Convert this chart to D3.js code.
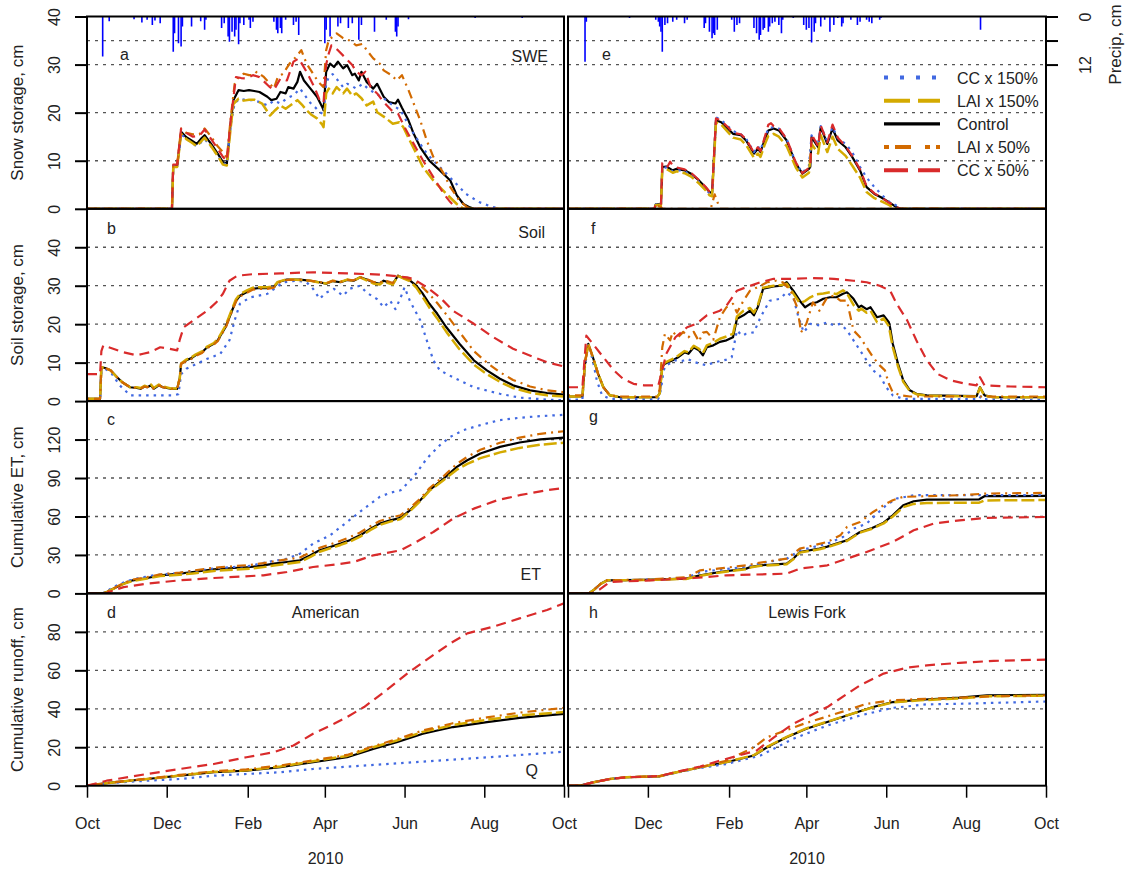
<!DOCTYPE html>
<html><head><meta charset="utf-8">
<script src="https://cdn.jsdelivr.net/npm/d3@7"></script>
<style>
body{margin:0;background:#fff;}
svg{font-family:"Liberation Sans",Arial,Helvetica,sans-serif;}
</style></head><body>
<svg id="chart" width="1134" height="869"></svg>
<script>
// ---------------- DATA (day of water year from 1 Oct 2009, value) ----------------
const monthTicks = ["2009-10-01","2009-12-01","2010-02-01","2010-04-01","2010-06-01","2010-08-01","2010-10-01"];
const yTicksSWE = [0,10,20,30,40];
const yTicksSoil = [0,10,20,30,40];
const yTicksET = [0,30,60,90,120];
const yTicksQ = [0,20,40,60,80];
const precipTicks = [0,6,12];
const precipTickLabels = ["0","","12"];
const seriesNames = ["CC x 150%","LAI x 150%","Control","LAI x 50%","CC x 50%"];

// Precipitation (cm)
const precipAmerican = [[12,10],[17,1.2],[36,0.7],[42,1.5],[46,0.8],[50,2.1],[52,1],[56,1.7],[66,8.8],[67,4.2],[70,6.7],[72,7.5],[73,2.5],[80,2.5],[87,1.2],[90,3.3],[91,0.8],[103,2.9],[105,1.7],[108,5],[109,6.3],[111,3.8],[113,5],[114,3.3],[116,6.9],[117,1.7],[120,2.1],[124,0.8],[125,2.9],[127,1.3],[143,1.3],[145,3.3],[146,4.2],[148,2.9],[149,4.2],[152,0.8],[158,2.1],[160,1.3],[162,4.6],[182,6.7],[183,3.3],[186,5],[192,2.5],[194,1.7],[200,2.9],[203,1.7],[208,5.8],[210,2.1],[220,3.8],[229,0.8],[236,3.8],[237,5],[238,2.5],[246,0.7],[297,0.4],[333,0.4]];
const precipLewis = [[13,11.3],[14,1.3],[47,0.4],[67,0.8],[69,1.3],[70,2.5],[71,3.8],[72,8.8],[74,2.1],[76,1.7],[80,1.3],[83,0.8],[89,1.7],[91,0.8],[104,2.9],[105,1.7],[108,3.8],[110,5.4],[111,4.2],[112,4.6],[114,3.3],[125,0.8],[127,3.8],[129,2.1],[131,1.7],[142,2.9],[144,4.2],[146,5.8],[147,4.6],[149,3.3],[150,2.9],[153,3.8],[154,2.5],[156,1.7],[158,1.3],[161,2.1],[163,4.2],[164,0.8],[172,0.4],[180,2.1],[182,3.3],[184,2.9],[186,6.5],[188,3.8],[189,1.7],[193,2.5],[196,0.8],[200,3.8],[203,2.1],[206,0.4],[209,2.5],[210,1.7],[216,0.8],[221,2.1],[223,1.3],[228,0.8],[230,1.3],[232,1.7],[238,0.8],[239,0.4],[315,3.3]];

// Panel a: SWE American
const ctrlA = [[0,0],[65,0],[66,8.9],[69,8.9],[72,16],[76,14.9],[80,14.2],[84,13.5],[87,14.5],[90,15.3],[95,13.5],[100,11.5],[104,9.7],[107,9.4],[110,18],[112,22.6],[116,24.7],[120,24.5],[124,24.7],[128,24.5],[132,24.3],[138,23.3],[141,22.6],[145,22.9],[148,24.3],[152,24],[154,25.3],[158,25],[161,26.4],[163,28.5],[166,26.7],[171,25],[176,23.3],[180,21.2],[181,20.5],[183,28.5],[186,30.2],[189,29.5],[192,30.6],[196,29.2],[199,29.9],[203,27.8],[205,28.1],[208,26.7],[210,28.5],[214,26.4],[219,25],[222,26],[227,23.3],[231,22.2],[236,21.9],[238,22.7],[241,21],[246,18.4],[250,15.6],[255,12.8],[262,10],[270,8],[278,5.9],[283,2.8],[288,1],[293,0.3],[296,0],[365,0]];
const lai150A = [[0,0],[65,0],[66,8.7],[69,8.7],[72,15.6],[76,14.5],[80,13.8],[84,13],[90,14.8],[95,13],[100,11],[104,9.2],[107,9],[110,17],[112,21.8],[116,22.9],[120,22.5],[124,22.7],[128,22.7],[134,21.9],[140,19.4],[144,20.5],[148,21.5],[152,20.8],[156,21.6],[161,22.6],[165,21.5],[168,20.5],[172,19.5],[176,18.8],[180,17.5],[181,17],[183,24],[185,25],[188,24],[191,25.3],[196,24],[199,25],[203,23.5],[206,24],[210,23],[214,21.5],[219,22.3],[222,20.1],[228,19],[234,17.7],[239,18],[242,17],[247,14.2],[252,11.5],[257,8.7],[265,5.9],[275,3.1],[283,1],[288,0],[365,0]];
const cc150A = [[0,0],[65,0],[66,8.9],[69,8.9],[72,15.5],[76,14.6],[80,13.8],[84,13],[90,14.5],[95,13],[100,11],[104,9.5],[107,9.2],[110,17.5],[113,22],[117,22.9],[122,22.6],[127,22.6],[132,22.2],[138,21.5],[143,22.5],[148,21.9],[153,23],[158,23.6],[163,25],[167,23.5],[171,22],[175,21],[178,20.1],[181,19.7],[183,26],[185,27.4],[188,28],[192,26.7],[196,25.3],[199,26],[203,25.5],[206,25],[211,26],[215,25],[219,24.3],[224,23.5],[229,22.6],[234,21.5],[240,20.5],[245,18],[250,15.6],[255,13.5],[260,11.5],[265,10],[270,8.7],[280,5.9],[290,3.1],[300,1.4],[310,0.4],[316,0],[365,0]];
const lai50A = [[0,0],[65,0],[66,9.2],[69,9.2],[72,16.7],[76,15.8],[81,15.5],[86,15.5],[90,16.7],[95,15],[100,13],[104,11.8],[107,10.5],[110,19],[113,26],[116,27.4],[120,28.1],[124,27.8],[127,27.8],[130,28.5],[135,27.5],[140,26],[143,25],[146,27.4],[150,28.1],[155,30.2],[160,31.6],[164,33],[168,30.2],[173,28.1],[177,26.4],[181,25.3],[183,33],[185,35.1],[191,36.5],[196,35.5],[201,35],[206,34],[211,34.3],[214,33],[219,31.3],[224,30.2],[227,28.8],[233,27.8],[237,26.7],[241,27.8],[246,24.7],[250,21.9],[255,18.4],[260,14.2],[265,10.8],[273,7.3],[278,4.5],[285,1.7],[291,0.3],[294,0],[365,0]];
const cc50A = [[0,0],[65,0],[66,9.2],[69,9.2],[72,16.7],[76,15.8],[81,15],[86,15.2],[90,16.5],[95,14.5],[100,12.5],[104,10.8],[107,10],[110,18.5],[114,27.4],[118,27.2],[122,27.1],[127,27.8],[132,27.4],[138,25.8],[140,25.3],[143,24.7],[148,27.1],[153,26.7],[158,30.6],[162,31.3],[168,28.5],[174,25.3],[178,22.6],[181,22],[183,30],[185,32.3],[187,34],[192,33],[197,31.6],[203,29.9],[206,28.5],[210,27.8],[213,28.5],[217,25.3],[222,24],[227,22.2],[233,20.5],[238,19.8],[243,17],[250,13.5],[257,10.1],[265,6.6],[273,3.1],[278,1.4],[282,0.3],[284,0],[365,0]];

// Panel e: SWE Lewis Fork
const ctrlE = [[0,0],[66,0],[67,0.9],[71,0.9],[72,8.7],[75,8.8],[80,8],[83,8.3],[89,8],[94,7.3],[100,5.9],[105,4.5],[108,3.5],[110,3.3],[113,18.4],[117,18],[122,16.7],[126,15.6],[132,15.3],[136,14.2],[142,11.5],[145,12.5],[147,11.8],[150,14.2],[153,16.3],[157,16.7],[161,16.3],[167,14.2],[174,9.4],[179,7.3],[184,8.3],[185,8.7],[186,14.9],[191,12.8],[193,17],[198,13.5],[202,16.7],[206,14.2],[212,12.8],[217,10.8],[223,8],[228,4.5],[234,3.1],[239,2.4],[245,1.4],[251,0.3],[254,0],[365,0]];
const cc150E = [[0,0],[66,0],[67,0.9],[71,0.9],[72,8.5],[75,8.6],[80,7.8],[83,8.1],[89,7.8],[94,7],[100,5.6],[105,4.2],[108,3.2],[110,3],[113,19],[117,18.5],[122,17.2],[126,16.2],[132,15.5],[136,14.6],[142,11.8],[145,13],[147,12.2],[150,14.6],[153,16.7],[157,17],[161,16.7],[167,14.5],[174,9.5],[179,7.5],[184,9],[186,15.3],[191,13.3],[193,17.2],[198,14],[202,17],[206,14.7],[212,13.5],[217,11.8],[223,8.7],[228,6.5],[234,4.5],[240,2.8],[245,1.5],[252,0.5],[256,0],[365,0]];
const lai150E = [[0,0],[66,0],[67,0.8],[71,0.8],[72,8.2],[75,8.3],[80,7.5],[83,7.8],[89,7.4],[94,6.7],[100,5.3],[105,3.9],[108,2.8],[110,2.6],[113,18],[117,17.5],[122,16],[126,14.8],[132,14.4],[136,13.3],[142,10.6],[145,11.5],[147,10.8],[150,13.2],[153,15.2],[157,15.6],[161,15],[167,13],[174,8.6],[179,6.5],[184,7.5],[186,13.5],[191,11.5],[193,15.3],[198,11.8],[202,15],[206,12.5],[212,11],[217,9],[223,6.5],[228,3.5],[234,2.2],[239,1.6],[245,0.8],[250,0],[365,0]];
const lai50E = [[0,0],[66,0],[68,0.6],[71,0.4],[72,0],[109,0],[112,3],[114,1.5],[116,0],[365,0]];
const cc50E = [[0,0],[66,0],[67,1],[71,1],[72,9.5],[74,9.7],[76,8.8],[78,9.8],[80,9],[83,8.6],[89,8.2],[94,7.5],[100,6],[105,4.6],[108,3.6],[110,3.4],[113,18.8],[117,18.3],[122,17],[126,15.8],[132,15.5],[136,14.5],[142,11.7],[145,12.8],[147,12],[150,14.7],[153,17.5],[155,17.8],[157,17.2],[161,16.8],[167,14.5],[174,9.6],[179,7.4],[184,8.5],[185,8.9],[186,15.5],[191,13],[193,17.3],[198,13.8],[202,17.5],[206,14.8],[212,13],[217,11],[223,8.2],[228,4.7],[234,3.2],[239,2.4],[245,1.3],[251,0.3],[254,0],[365,0]];

// Panel b: Soil American
const ctrlB = [[0,0.6],[10,0.6],[11,8.8],[14,8.6],[18,8],[23,6.2],[27,4.9],[33,3.6],[38,3.4],[41,3.2],[44,3.8],[46,3.6],[49,4.1],[51,3.2],[55,4.1],[58,3.6],[64,3.2],[69,3.2],[71,6],[72,9.7],[76,10.6],[80,11.2],[83,11.9],[88,12.7],[92,14],[97,14.9],[100,15.8],[103,17.5],[106,19.2],[109,21.8],[112,24.4],[114,26.1],[117,27.4],[122,28.3],[127,29.2],[132,29.4],[138,29.4],[143,29.6],[146,30.9],[153,31.6],[163,31.6],[171,31.3],[178,30.9],[183,30.5],[188,31.2],[194,30.9],[199,31.5],[204,31.3],[209,32.2],[214,31.6],[219,30.9],[224,30.5],[227,31.3],[234,30.5],[238,32.6],[242,32],[247,31.4],[252,30],[257,27.9],[262,25.3],[268,22.7],[275,19.2],[285,14.9],[296,10.6],[306,8],[316,5.8],[326,4.1],[339,2.8],[352,2.1],[365,1.7]];
const lai150B = [[0,0.6],[10,0.6],[11,8.8],[14,8.6],[18,8],[23,6.2],[27,4.9],[33,3.6],[38,3.6],[41,3.4],[44,4],[46,3.8],[49,4.3],[51,3.4],[55,4.3],[58,3.8],[64,3.3],[69,3.3],[71,6],[72,9.8],[76,10.8],[80,11.4],[83,12.1],[88,12.9],[92,14.2],[97,15.1],[100,16.1],[103,17.8],[106,19.6],[109,22.2],[112,24.8],[114,26.5],[117,27.8],[122,28.7],[127,29.5],[132,29.6],[138,29.6],[143,29.8],[146,31],[153,31.7],[163,31.5],[171,31.3],[178,30.8],[183,30.6],[188,31.3],[194,31],[199,31.6],[204,31.3],[209,32.2],[214,31.4],[219,30.6],[224,30.3],[227,31.1],[234,30.3],[238,32.6],[242,31.9],[247,31.2],[252,29.5],[257,27],[262,24.3],[268,21.5],[275,18],[285,13.5],[296,9.5],[306,7],[316,5],[326,3.4],[339,2.2],[352,1.5],[365,1.2]];
const lai50B = [[0,0.6],[10,0.6],[11,8.8],[14,8.6],[18,8],[23,6.2],[27,4.9],[33,3.6],[38,3.4],[41,3.2],[44,3.8],[46,3.6],[49,4.1],[51,3.2],[55,4.1],[58,3.6],[64,3.2],[69,3.2],[71,6],[72,9.7],[76,10.4],[80,11],[83,11.7],[88,12.5],[92,13.8],[97,14.7],[100,15.6],[103,17.3],[106,19],[109,21.6],[112,24.2],[114,25.9],[117,27.2],[122,28.1],[127,29],[132,29.2],[138,29.2],[143,29.5],[146,30.7],[153,31.5],[163,31.6],[171,31.3],[178,31],[183,30.6],[188,31.3],[194,31],[199,31.5],[204,31.4],[209,32.2],[214,31.7],[219,31],[224,30.7],[227,31.5],[234,30.7],[238,32.6],[242,32.1],[247,31.6],[252,30.8],[257,29.5],[262,27.8],[268,25.5],[275,22.5],[285,18],[296,13],[306,10],[316,7.5],[326,5.5],[339,3.8],[352,2.8],[365,2.3]];
const cc150B = [[0,0.6],[10,0.6],[11,7.5],[14,8.4],[19,7.1],[25,4.1],[33,1.5],[46,1.5],[66,1.5],[70,1.8],[72,7],[76,8.4],[84,9.7],[92,11],[102,12.3],[109,15.8],[113,21],[117,25.3],[125,27],[138,27.9],[145,29.6],[150,30.9],[161,31.3],[168,30.9],[173,29.2],[178,26.6],[183,28.2],[189,29.2],[196,27.4],[201,29.2],[209,30],[214,28.2],[222,26.5],[227,24.4],[232,26.1],[236,23.9],[240,26.9],[243,29.6],[247,26.1],[255,21],[260,15.8],[265,10.6],[270,8],[280,6.2],[296,3.6],[316,1.9],[331,0.9],[352,0.4],[365,0.2]];
const cc50B = [[0,7],[10,7],[11,13],[12.5,14.5],[20,13.6],[28,12.7],[38,11.9],[43,12.3],[48,12.7],[56,14],[63,13.6],[69,13.2],[71,16],[74,19.2],[81,20.9],[92,23.5],[99,25.7],[104,27.9],[109,31.3],[115,32.6],[127,33],[148,33.2],[173,33.5],[199,33.2],[224,32.9],[245,32.2],[250,31.7],[260,29.6],[270,27],[280,23.5],[296,20.1],[311,16.6],[326,13.6],[342,11.4],[352,10.1],[365,9]];

// Panel f: Soil Lewis Fork
const ctrlF = [[0,1.2],[11,1.2],[13,10],[15.5,14.9],[19,11.4],[23,7.1],[27,3.6],[32,1.5],[40,1],[68,1],[70,2],[72,9],[74,9.7],[80,10.6],[84,11.4],[89,12.7],[92,12.3],[96,14],[100,13.2],[103,11.9],[106,14],[111,14.5],[116,15.4],[121,15.8],[126,16.6],[129,21.4],[134,22.3],[139,23.5],[142,22.3],[145,24.5],[149,29.2],[157,29.8],[163,30],[167,30.9],[172,28.7],[177,26.1],[181,24.4],[185,25.3],[190,25.7],[195,26.6],[200,27],[205,27],[210,27.9],[213,28.3],[218,26.6],[222,24.4],[224,24.8],[228,23.9],[231,24.4],[236,21.8],[241,22.3],[245,20.5],[246,19],[248,14.9],[252,9.7],[256,5.4],[261,2.8],[266,1.9],[274,1.5],[312,1.3],[314.6,3.6],[318,1.5],[325,1],[365,1]];
const lai150F = [[0,1.2],[11,1.2],[13,10],[15.5,14.9],[19,11.4],[23,7.1],[27,3.6],[32,1.5],[40,1],[68,1],[70,2],[72,9],[74,10],[80,11],[84,11.8],[89,13],[92,12.7],[96,14.4],[100,13.6],[103,12.5],[106,14.5],[111,15.2],[116,16.2],[121,16.8],[126,17.5],[129,22],[134,23.5],[139,24.2],[142,23],[145,25],[149,29.5],[157,30],[163,30.2],[167,30.5],[172,28],[177,25.5],[181,26],[185,27],[190,27.8],[195,28],[200,28.3],[205,27.8],[210,28.8],[213,28],[218,25],[222,23.5],[224,24],[228,23],[231,23.5],[236,20.5],[241,21.5],[245,19.5],[248,14],[252,9],[256,5],[261,2.6],[266,1.8],[274,1.4],[312,1.2],[314.6,3.5],[318,1.4],[325,1],[365,1]];
const lai50F = [[0,1.5],[11,1.5],[13,10],[15.5,14.9],[19,11.4],[23,7.1],[27,3.6],[32,1.5],[40,1.2],[68,1.2],[70,3],[72,14],[74,17.5],[78,15.8],[80,18],[84,16.6],[88,18],[92,16.6],[96,18],[100,15.5],[103,17.8],[106,18],[111,16],[116,21.8],[121,24.4],[126,25.3],[129,23],[134,26.1],[139,28.7],[147,30],[152,30.9],[159,31.3],[164,30.9],[170,28.7],[175,24.4],[178,17.9],[182,20.1],[187,25.7],[192,23.5],[198,27],[203,27.4],[208,26.1],[213,26.1],[218,18.4],[223,16.6],[228,14],[233,11.4],[238,9.3],[242,8],[245,4.5],[248,2.3],[254,1.5],[261,1.2],[365,1.2]];
const cc150F = [[0,0.4],[11,0.4],[13,9],[15.5,14.9],[19,10.5],[22,5.4],[26,1.5],[32,0.6],[69,0.6],[71,3],[73,8],[75,9.3],[82,10.6],[87,10.4],[91,11],[96,10.2],[101,9.7],[106,9.3],[111,10],[116,10.4],[121,10.8],[125,11.4],[129,18.4],[133,17],[136,17.5],[142,17.9],[147,21.8],[154,26.1],[162,26.6],[167,28.3],[172,27],[176,21.8],[180,17.9],[185,20.1],[192,19.7],[198,20.5],[203,19.7],[208,20.1],[213,18.4],[218,15.8],[223,13.2],[228,10.6],[233,8],[238,6.7],[243,3.6],[248,1.5],[256,0.6],[314,0.5],[315,1.2],[317,0.5],[365,0.3]];
const cc50F = [[0,3.6],[11,3.6],[14,17],[19,14.9],[27,11.4],[35,8],[42,5.8],[50,4.5],[58,4.1],[69,4.1],[72,8],[75,12.3],[82,16.6],[91,19.2],[98,20.1],[106,22.3],[116,23.5],[121,24.8],[129,28.7],[136,29.6],[147,30.9],[157,31.8],[172,31.8],[187,32],[203,31.8],[218,31.3],[228,30.9],[238,30],[246,28.7],[251,25.3],[259,21],[266,15.8],[274,10.6],[282,7.1],[292,5.4],[304,4.5],[312,4.1],[314.6,6.2],[318,4.1],[338,3.8],[365,3.6]];

// Panel c: ET American
const ctrlC = [[0,0],[12,0],[15,1],[20,3.6],[28,7.6],[35,10.2],[46,12],[56,14.1],[71,15.4],[81,16.7],[97,18.8],[112,19.8],[125,20.6],[135,21.9],[143,23.2],[153,24.5],[163,25.8],[171,29.7],[178,33.6],[186,36.2],[194,38.8],[201,41.4],[209,45.3],[217,50.5],[224,54.4],[232,57],[240,58.9],[247,64.8],[255,72.7],[262,80.5],[273,89.6],[283,98.7],[291,103.9],[301,109.1],[316,114.3],[331,117.7],[347,120.1],[365,121.5]];
const lai150C = [[0,0],[12,0],[15,1],[20,3.5],[28,7.4],[35,9.8],[46,11.6],[56,13.5],[71,14.6],[81,15.6],[97,17.5],[112,18.5],[125,19.3],[135,20.5],[143,21.8],[153,23],[163,24.5],[171,28.5],[178,32.5],[186,35.2],[194,37.8],[201,40.4],[209,44.3],[217,49.5],[224,53.4],[232,56],[240,58],[247,64],[255,72],[262,80],[273,88.5],[283,96.5],[291,101],[301,105.5],[316,110],[331,113.5],[347,116],[365,117.5]];
const lai50C = [[0,0],[12,0],[15,1.2],[20,3.8],[28,8],[35,10.8],[46,12.7],[56,14.8],[71,16.3],[81,17.8],[97,20],[112,21.2],[125,22.2],[135,23.6],[143,25],[153,26.5],[163,28],[171,32],[178,35.5],[186,38.2],[194,41],[201,43.8],[209,47.5],[217,52.5],[224,56.5],[232,59],[240,61],[247,66.5],[255,74],[262,82],[273,91.5],[283,101],[291,106.5],[301,112],[316,117.5],[331,121.5],[347,124.5],[365,126.5]];
const cc150C = [[0,0],[12,0],[15,1.5],[20,4.9],[30,9.5],[40,12],[51,14.2],[71,16],[97,19.5],[112,20.6],[125,21.5],[138,24.5],[153,27],[163,31],[173,38.8],[186,45.3],[199,55.7],[212,66.1],[224,75.3],[232,78.5],[240,80.5],[250,90.9],[260,105.2],[270,115.6],[278,122.1],[288,127.3],[301,131.3],[316,135.2],[331,137],[347,138.3],[365,139.3]];
const cc50C = [[0,0],[14,0],[18,1.5],[28,4.9],[46,7.6],[71,10.2],[97,12],[135,14.1],[153,16.7],[173,20.6],[190,22.5],[204,24.5],[219,29.7],[240,33.6],[252,40.1],[265,47.9],[280,58.3],[296,66.1],[314,72.7],[331,76.6],[352,80.5],[365,82.3]];

// Panel g: ET Lewis Fork
const ctrlG = [[0,0],[16,0],[20,3],[25,7.5],[30,10.2],[57,10.5],[90,11.5],[101,14.1],[116,16.7],[136,19.3],[140,20.8],[147,21.9],[167,23.2],[172,27],[177,32.3],[192,34.9],[198,36.5],[205,38.8],[213,41.4],[223,47.9],[231,50.5],[241,55.2],[248,60.9],[256,68.8],[264,71.9],[274,73.2],[314,73.4],[318,75.8],[365,76]];
const lai150G = [[0,0],[16,0],[20,3],[25,7.5],[30,10.2],[57,10.4],[90,11.3],[101,13.8],[116,16.3],[136,18.9],[140,20.4],[147,21.5],[167,22.8],[172,26.6],[177,31.8],[192,34.4],[198,36],[205,38.3],[213,40.9],[223,47.4],[231,50],[241,54.6],[248,60],[256,67.3],[264,69.8],[274,70.5],[314,70.8],[318,72.5],[365,72.8]];
const lai50G = [[0,0],[16,0],[20,3],[25,7.5],[30,10.2],[57,10.7],[90,12.5],[101,18],[116,19.5],[136,21.9],[147,24],[167,27.1],[177,34.9],[198,40.1],[208,45.3],[213,51.8],[223,55.7],[233,63.5],[241,68.8],[248,72.7],[256,75.3],[299,76.6],[320,77.9],[365,78.4]];
const cc150G = [[0,0],[16,0],[20,3],[25,7.5],[30,10.2],[57,10.6],[90,12],[101,16.7],[116,18.5],[136,20.6],[152,24.5],[167,27],[177,33.6],[198,38.8],[210,44],[218,50.5],[228,54.4],[236,62.2],[243,68.8],[251,74],[264,76.6],[365,76.6]];
const cc50G = [[0,0],[18,0],[24,3],[32,8.9],[60,10],[96,12],[121,14.1],[167,15.4],[177,19.3],[198,21.9],[213,27.1],[228,32.3],[248,40.1],[264,49.2],[279,54.4],[299,57],[320,58.9],[365,59.6]];

// Panel d: runoff American
const ctrlD = [[0,0],[5,0.5],[20,1.7],[46,3.5],[71,5.2],[97,7],[122,7.8],[148,9.6],[173,12.2],[199,14.8],[219,19.1],[237,22.6],[257,27],[280,30.5],[306,33.1],[331,35.3],[365,37.4]];
const lai150D = [[0,0],[5,0.5],[20,1.7],[46,3.5],[71,5.3],[97,7.2],[122,8],[148,10],[173,12.7],[199,15.5],[219,20],[237,23.5],[257,28],[280,31.5],[306,34.3],[331,36.5],[365,38.3]];
const lai50D = [[0,0],[5,0.5],[20,1.8],[46,3.7],[71,5.6],[97,7.5],[122,8.5],[148,10.5],[173,13.2],[199,16],[219,20.5],[237,24.2],[257,28.7],[280,32.5],[306,35.5],[331,38],[365,40.5]];
const cc150D = [[0,0],[5,0.3],[20,1.5],[46,2.6],[71,3.5],[97,5.2],[148,7],[173,8.7],[211,10.4],[250,12.2],[288,13.9],[326,15.7],[365,17.7]];
const cc50D = [[0,0],[15,2.6],[46,6.1],[71,8.7],[97,11.3],[122,14.8],[143,17.4],[158,20.9],[173,27],[189,32.2],[199,35.7],[212,40.9],[229,49.6],[245,58.3],[263,67],[278,74],[291,79.2],[311,82.7],[331,87],[352,91.4],[365,94.8]];

// Panel h: runoff Lewis Fork
const ctrlH = [[0,0],[9,0],[19,1.7],[32,3.5],[45,4.4],[70,4.9],[83,7],[101,9.6],[121,12.2],[142,15.7],[152,20],[167,25.2],[182,29.6],[198,33.1],[213,36.5],[233,40.9],[248,43.5],[269,44.7],[299,45.8],[320,47],[365,47.3]];
const lai150H = [[0,0],[9,0],[19,1.7],[32,3.5],[45,4.4],[70,4.9],[83,7],[101,9.6],[121,12.3],[142,15.9],[152,20.2],[167,25.4],[182,29.8],[198,33.3],[213,36.6],[233,40.8],[248,43.3],[269,44.4],[299,45.4],[320,46.5],[365,46.8]];
const lai50H = [[0,0],[9,0],[19,1.7],[32,3.5],[45,4.4],[70,5],[83,7.2],[96,8.8],[121,13],[142,20],[152,25.2],[180,32.2],[213,39.2],[228,42.6],[248,44.4],[274,45.2],[325,46.5],[365,47]];
const cc150H = [[0,0],[9,0],[19,1.7],[32,3.5],[45,4.4],[70,4.9],[83,6.8],[101,9.2],[121,11.3],[147,15.7],[172,24.4],[198,31.3],[223,36.5],[248,40.5],[274,42.3],[299,42.6],[365,43.8]];
const cc50H = [[0,0],[9,0],[19,1.7],[32,3.5],[45,4.4],[70,5],[83,7.2],[101,10],[116,13],[144,18.3],[157,25],[172,32.2],[198,40.9],[223,52.2],[241,58.3],[259,61.4],[274,62.6],[299,63.9],[325,64.9],[365,65.6]];

// ---------------- RENDERING ----------------
const svg = d3.select("#chart");
const startDate = new Date(2009, 9, 1);
const endDate = new Date(2010, 9, 1);
const toDate = d => new Date(startDate.getTime() + d * 864e5);
const tickDates = monthTicks.map(s => { const p = s.split("-").map(Number); return new Date(p[0], p[1]-1, p[2]); });

const cols = [{x0: 87, x1: 564}, {x0: 568, x1: 1046}];
const top0 = 16.5, rowH = 192.3;
const rows = [
  {domain: [0, 40], ticks: yTicksSWE, title: "Snow storage, cm"},
  {domain: [0, 50], ticks: yTicksSoil, title: "Soil storage, cm"},
  {domain: [0, 150], ticks: yTicksET, title: "Cumulative ET, cm"},
  {domain: [0, 100], ticks: yTicksQ, title: "Cumulative runoff, cm"}
];
const styles = {
  ctrl:   {color: "#000000", w: 2.2, dash: null,        lw: 3.4, ldash: null},
  cc150:  {color: "#4169E1", w: 2.2, dash: "2.5,5",     lw: 4,   ldash: "4,12"},
  lai150: {color: "#D4AA00", w: 2.5, dash: "13,4",      lw: 4,   ldash: "26,8"},
  lai50:  {color: "#D26A00", w: 2.2, dash: "2,5,9,5",   lw: 4,   ldash: "5,6,16,14"},
  cc50:   {color: "#D92B2B", w: 2.2, dash: "10,6",      lw: 4,   ldash: "24,10"}
};
const drawOrder = ["ctrl", "cc150", "lai150", "lai50", "cc50"];
const legendOrder = ["cc150", "lai150", "ctrl", "lai50", "cc50"];

const panels = [
  {c:0, r:0, s:{ctrl:ctrlA, cc150:cc150A, lai150:lai150A, lai50:lai50A, cc50:cc50A}, precip: precipAmerican},
  {c:1, r:0, s:{ctrl:ctrlE, cc150:cc150E, lai150:lai150E, lai50:lai50E, cc50:cc50E}, precip: precipLewis},
  {c:0, r:1, s:{ctrl:ctrlB, cc150:cc150B, lai150:lai150B, lai50:lai50B, cc50:cc50B}},
  {c:1, r:1, s:{ctrl:ctrlF, cc150:cc150F, lai150:lai150F, lai50:lai50F, cc50:cc50F}},
  {c:0, r:2, s:{ctrl:ctrlC, cc150:cc150C, lai150:lai150C, lai50:lai50C, cc50:cc50C}},
  {c:1, r:2, s:{ctrl:ctrlG, cc150:cc150G, lai150:lai150G, lai50:lai50G, cc50:cc50G}},
  {c:0, r:3, s:{ctrl:ctrlD, cc150:cc150D, lai150:lai150D, lai50:lai50D, cc50:cc50D}},
  {c:1, r:3, s:{ctrl:ctrlH, cc150:cc150H, lai150:lai150H, lai50:lai50H, cc50:cc50H}}
];

const FS = 16;
const defs = svg.append("defs");

panels.forEach((p, i) => {
  const col = cols[p.c], row = rows[p.r];
  const yTop = top0 + p.r * rowH, yBot = yTop + rowH;
  const x = d3.scaleTime().domain([startDate, endDate]).range([col.x0, col.x1]);
  const y = d3.scaleLinear().domain(row.domain).range([yBot, yTop]);
  const g = svg.append("g");
  defs.append("clipPath").attr("id", "clip" + i)
    .append("rect").attr("x", col.x0).attr("y", yTop).attr("width", col.x1 - col.x0).attr("height", rowH);

  // gridlines
  let gridVals = row.ticks.filter(v => v > row.domain[0] && v < row.domain[1]);
  const grid = g.append("g");
  gridVals.forEach(v => {
    grid.append("line").attr("x1", col.x0).attr("x2", col.x1).attr("y1", y(v)).attr("y2", y(v))
      .attr("stroke", "#555").attr("stroke-width", 1.3).attr("stroke-dasharray", "3,5");
  });

  const plot = g.append("g").attr("clip-path", `url(#clip${i})`);

  // precipitation
  if (p.precip) {
    const yp = d3.scaleLinear().domain([0, 12]).range([yTop, y(30)]);
    grid.append("line").attr("x1", col.x0).attr("x2", col.x1).attr("y1", yp(6)).attr("y2", yp(6))
      .attr("stroke", "#555").attr("stroke-width", 1.3).attr("stroke-dasharray", "3,5");
    plot.append("g").selectAll("line").data(p.precip).join("line")
      .attr("x1", d => x(toDate(d[0]))).attr("x2", d => x(toDate(d[0])))
      .attr("y1", yp(0)).attr("y2", d => yp(d[1]))
      .attr("stroke", "#0000FF").attr("stroke-width", 1.6);
    if (p.c === 1) {
      const ax = d3.axisRight(yp).tickValues(precipTicks).tickSize(12).tickFormat((d, k) => precipTickLabels[k]);
      const ag = svg.append("g").attr("transform", `translate(${col.x1},0)`).call(ax);
      ag.select(".domain").remove();
      ag.selectAll(".tick line").attr("stroke", "#000").attr("stroke-width", 2);
      ag.selectAll(".tick text").attr("x", 0).attr("dy", 0).attr("text-anchor", "middle")
        .attr("transform", "translate(45,0) rotate(-90)").style("font-size", FS + "px").attr("fill", "#222");
      svg.append("text").attr("transform", `translate(1121,${(yTop + y(30)) / 2 + 4}) rotate(-90)`)
        .attr("text-anchor", "middle").style("font-size", "17px").attr("fill", "#222").text("Precip, cm");
    }
  }

  // series
  const line = d3.line().x(d => x(toDate(d[0]))).y(d => y(d[1]));
  drawOrder.forEach(k => {
    const st = styles[k];
    plot.append("path").datum(p.s[k]).attr("d", line).attr("fill", "none")
      .attr("stroke", st.color).attr("stroke-width", st.w)
      .attr("stroke-dasharray", st.dash).attr("stroke-linejoin", "round");
  });

  // border
  g.append("rect").attr("x", col.x0).attr("y", yTop).attr("width", col.x1 - col.x0).attr("height", rowH)
    .attr("fill", "none").attr("stroke", "#000").attr("stroke-width", 2);

  // y axis (left column)
  if (p.c === 0) {
    const ay = d3.axisLeft(y).tickValues(row.ticks).tickSize(12);
    const ag = svg.append("g").attr("transform", `translate(${col.x0},0)`).call(ay);
    ag.select(".domain").remove();
    ag.selectAll(".tick line").attr("stroke", "#000").attr("stroke-width", 2);
    ag.selectAll(".tick text").attr("x", 0).attr("dy", 0).attr("text-anchor", "middle")
      .attr("transform", "translate(-27,0) rotate(-90)").style("font-size", FS + "px").attr("fill", "#222");
    svg.append("text").attr("transform", `translate(23,${(yTop + yBot) / 2}) rotate(-90)`)
      .attr("text-anchor", "middle").style("font-size", "17px").attr("fill", "#222").text(row.title);
  }

  // x axis (bottom row)
  if (p.r === 3) {
    const axx = d3.axisBottom(x).tickValues(tickDates).tickSize(12)
      .tickFormat((d, k) => (p.c === 1 && k === 0) ? "" : d3.timeFormat("%b")(d));
    const ag = svg.append("g").attr("transform", `translate(0,${yBot})`).call(axx);
    ag.select(".domain").remove();
    ag.selectAll(".tick line").attr("stroke", "#000").attr("stroke-width", 1.5);
    ag.selectAll(".tick text").attr("y", 829 - yBot).attr("dy", 0).style("font-size", FS + "px").attr("fill", "#222");
    svg.append("text").attr("x", (col.x0 + col.x1) / 2).attr("y", 864).attr("text-anchor", "middle")
      .style("font-size", FS + "px").attr("fill", "#222").text("2010");
  }
});

// panel annotations
const ann = [
  {t:"a", x:120, y:60, a:"start"}, {t:"SWE", x:548, y:62, a:"end"},
  {t:"b", x:107, y:234, a:"start"}, {t:"Soil", x:545, y:238, a:"end"},
  {t:"c", x:107, y:425, a:"start"}, {t:"ET", x:541, y:580, a:"end"},
  {t:"d", x:107, y:618, a:"start"}, {t:"American", x:325.5, y:618, a:"middle"}, {t:"Q", x:538, y:776, a:"end"},
  {t:"e", x:602, y:60, a:"start"}, {t:"f", x:591, y:234, a:"start"},
  {t:"g", x:589, y:422, a:"start"}, {t:"h", x:589, y:618, a:"start"},
  {t:"Lewis Fork", x:807, y:618, a:"middle"}
];
svg.append("g").selectAll("text").data(ann).join("text")
  .attr("x", d => d.x).attr("y", d => d.y).attr("text-anchor", d => d.a)
  .style("font-size", FS + "px").attr("fill", "#222").text(d => d.t);

// legend (panel e)
const lg = svg.append("g");
legendOrder.forEach((k, i) => {
  const st = styles[k];
  const cy = 77.5 + i * 23.2;
  lg.append("line").attr("x1", 884).attr("x2", 940).attr("y1", cy).attr("y2", cy)
    .attr("stroke", st.color).attr("stroke-width", st.lw).attr("stroke-dasharray", st.ldash);
  lg.append("text").attr("x", 957).attr("y", cy + 6).style("font-size", FS + "px").attr("fill", "#222")
    .text(seriesNames[["cc150","lai150","ctrl","lai50","cc50"].indexOf(k)]);
});
</script></body></html>
